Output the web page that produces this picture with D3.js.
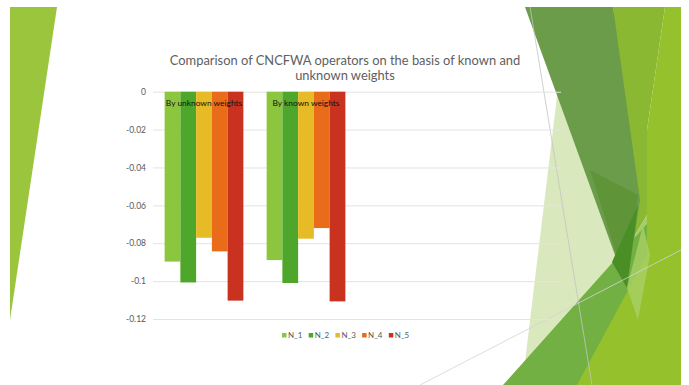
<!DOCTYPE html>
<html><head><meta charset="utf-8">
<script src="https://cdn.jsdelivr.net/npm/d3@7"></script>
<style>html,body{margin:0;padding:0;background:#fff;}svg{display:block;}</style>
</head><body>
<svg id="c" width="689" height="385"></svg>
<script>
const categories = ["By unknown weights", "By known weights"];
const slots = 4; // chart reserves four category slots, two left empty
const seriesNames = ["N_1", "N_2", "N_3", "N_4", "N_5"];
const seriesColors = ["#8cc63e", "#4ea72a", "#e6bb25", "#e86c1a", "#c8321e"];
const N_1 = [-0.0897, -0.0889];
const N_2 = [-0.1007, -0.1010];
const N_3 = [-0.0771, -0.0776];
const N_4 = [-0.0843, -0.0720];
const N_5 = [-0.1103, -0.1107];
const seriesValues = [N_1, N_2, N_3, N_4, N_5];
const yTicks = [0, -0.02, -0.04, -0.06, -0.08, -0.1, -0.12];
const titleLines = ["Comparison of CNCFWA operators on the basis of known and", "unknown weights"];

const svg = d3.select("#c");
const font = "Lato, 'Open Sans', sans-serif";

// slide decoration (theme shapes)
const deco = svg.append("g");
const poly = (pts, fill, op) => deco.append("polygon").attr("points", pts.map(p => p.join(",")).join(" ")).attr("fill", fill).attr("fill-opacity", op);
poly([[10,7],[57,7],[10,320]], "#9bc53d", 1);
poly([[613,7],[665,7],[647,130],[647,215],[632,240]], "#8ab833", 1);
poly([[632,240],[647,215],[650,300],[625,330]], "#a5cc6b", 1);
poly([[558,88],[630,275],[525,362]], "#dae8bd", 1);
poly([[525,7],[613,7],[640,200],[627,288]], "#6a9c4a", 1);
poly([[590,170],[638,195],[627,288]], "#5f9538", 1);
poly([[503,385],[681,186],[681,385]], "#72b043", 1);
poly([[577,385],[647,255],[647,130],[665,7],[681,7],[681,385]], "#94c12c", 1);
poly([[612,262],[638,205],[627,288]], "#4a8f26", 1);
poly([[627,288],[643,225],[650,255],[638,320]], "#a8cf65", 0.8);
deco.append("line").attr("x1",530).attr("y1",7).attr("x2",592).attr("y2",385).attr("stroke","#c4c4c4").attr("stroke-width",0.8);
deco.append("line").attr("x1",420).attr("y1",385).attr("x2",681).attr("y2",250).attr("stroke","#d4d4d4").attr("stroke-width",0.8);
svg.append("rect").attr("x",0).attr("y",0).attr("width",689).attr("height",7).attr("fill","#fff");
svg.append("rect").attr("x",681).attr("y",0).attr("width",8).attr("height",385).attr("fill","#fff");

// scales
const y = d3.scaleLinear().domain([-0.12, 0]).range([319, 91.7]);
const p = 0.228;
const x0 = d3.scaleBand().domain(d3.range(slots)).range([153, 561]).paddingInner(p).paddingOuter(p / 2);
const x1 = d3.scaleBand().domain(seriesNames).range([0, x0.bandwidth()]);

// gridlines
const yAxis = d3.axisLeft(y).tickValues(yTicks).tickSize(-(561 - 153)).tickPadding(7)
  .tickFormat(d => d === 0 ? "0" : String(+d.toFixed(2)));
const ga = svg.append("g").attr("transform", "translate(153,0)").call(yAxis);
ga.select(".domain").remove();
ga.selectAll(".tick line").attr("stroke", "#e3e3e3").attr("stroke-width", 1);
ga.selectAll(".tick text").attr("fill", "#595959").attr("font-size", "8.5px").attr("font-family", font);

// bars
seriesNames.forEach((s, si) => {
  svg.append("g").selectAll("rect").data(categories).join("rect")
    .attr("x", (d, i) => x0(i) + x1(s))
    .attr("width", x1.bandwidth())
    .attr("y", y(0))
    .attr("height", (d, i) => y(seriesValues[si][i]) - y(0))
    .attr("fill", seriesColors[si]);
});

// category labels next to axis
svg.append("g").selectAll("text").data(categories).join("text")
  .attr("x", (d, i) => x0(i) + x0.bandwidth() / 2)
  .attr("y", 106)
  .attr("text-anchor", "middle")
  .attr("font-size", "8.4px").attr("font-family", font).attr("fill", "#111")
  .text(d => d);

// title
svg.append("g").selectAll("text").data(titleLines).join("text")
  .attr("x", 345).attr("y", (d, i) => 65 + i * 15)
  .attr("text-anchor", "middle")
  .attr("font-size", "12.9px").attr("font-family", font).attr("fill", "#606060")
  .text(d => d);

// legend
const lg = svg.append("g");
seriesNames.forEach((s, i) => {
  const lx = 284 + i * 26.7;
  lg.append("rect").attr("x", lx - 2).attr("y", 333).attr("width", 4.5).attr("height", 4.5).attr("fill", seriesColors[i]);
  lg.append("text").attr("x", lx + 4).attr("y", 338).attr("font-size", "8px").attr("font-family", font).attr("fill", "#595959").text(s);
});
</script>
</body></html>
